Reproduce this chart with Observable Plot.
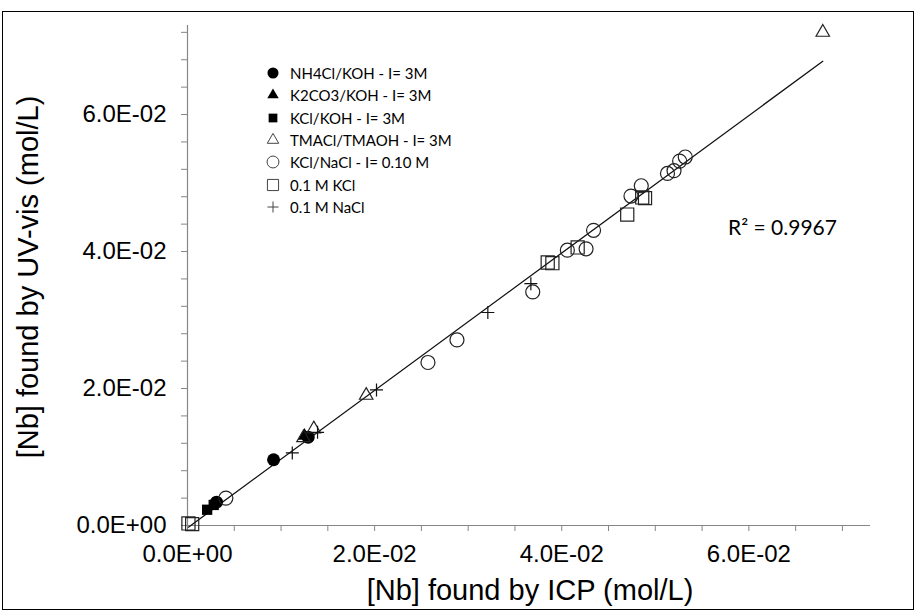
<!DOCTYPE html>
<html><head><meta charset="utf-8">
<script src="https://cdn.jsdelivr.net/npm/d3@7"></script>
<script src="https://cdn.jsdelivr.net/npm/@observablehq/plot@0.6"></script>
<style>
body{margin:0;background:#fff;}
#wrap{position:relative;width:917px;height:613px;overflow:hidden;}
#border{position:absolute;left:2px;top:11px;width:912px;height:599px;border:1.5px solid #000;box-sizing:border-box;pointer-events:none;}
.title{position:absolute;font-family:"Liberation Sans",Arial,sans-serif;font-size:29px;color:#000;white-space:nowrap;line-height:1;}
#ytitle{left:28px;top:277px;transform:translate(-50%,-50%) rotate(-90deg);}
#xtitle{left:530px;top:590px;transform:translate(-50%,-50%);}
#r2{position:absolute;left:728px;top:216px;font-family:Lato,"Open Sans",sans-serif;font-size:21px;line-height:1;white-space:nowrap;}
#legend{position:absolute;left:263px;top:62px;font-family:Lato,"Open Sans",sans-serif;font-size:15px;}
.row{display:flex;align-items:center;height:22.3px;}
.row svg{width:20px;height:20px;margin-right:7px;}
</style></head>
<body><div id="wrap"><div id="chart"></div>
<div id="border"></div>
<div class="title" id="ytitle">[Nb] found by UV-vis (mol/L)</div>
<div class="title" id="xtitle">[Nb] found by ICP (mol/L)</div>
<div id="r2"></div>
<div id="legend"></div>
</div>
<script>
// ---- data ----
const seriesNames = ["NH4Cl/KOH - I= 3M", "K2CO3/KOH - I= 3M", "KCl/KOH - I= 3M", "TMACl/TMAOH - I= 3M", "KCl/NaCl - I= 0.10 M", "0.1 M KCl", "0.1 M NaCl"];
const nh4clX = [0.0031, 0.0092, 0.0129];
const nh4clY = [0.0034, 0.0096, 0.0129];
const k2co3X = [0.0125];
const k2co3Y = [0.0131];
const kclkohX = [0.0021, 0.0028];
const kclkohY = [0.0023, 0.0030];
const tmaclX = [0.0124, 0.0135, 0.0191, 0.0679];
const tmaclY = [0.0128, 0.0141, 0.0190, 0.0720];
const kclnaclX = [0.0041, 0.0257, 0.0288, 0.0369, 0.0406, 0.0426, 0.0434, 0.0474, 0.0485, 0.0513, 0.0520, 0.0526, 0.0532];
const kclnaclY = [0.0040, 0.0238, 0.0271, 0.0341, 0.0402, 0.0404, 0.0431, 0.0481, 0.0496, 0.0514, 0.0518, 0.0532, 0.0538];
const kclX = [0.0001, 0.0005, 0.0385, 0.0390, 0.0417, 0.0470, 0.0486, 0.0489];
const kclY = [0.0003, 0.0002, 0.0384, 0.0383, 0.0406, 0.0454, 0.0479, 0.0478];
const naclX = [0.0112, 0.0139, 0.0202, 0.0321, 0.0367];
const naclY = [0.0106, 0.0136, 0.0198, 0.0311, 0.0353];
const majorTicks = [0, 0.02, 0.04, 0.06];
const xMinorStep = 0.005, yMinorStep = 0.004;
const axisMax = 0.073;
const r2Label = "R² = 0.9967";

// ---- styles ----
const plusSymbol = {draw(ctx, size) {const r = Math.sqrt(size / Math.PI); ctx.moveTo(-r, 0); ctx.lineTo(r, 0); ctx.moveTo(0, -r); ctx.lineTo(0, r);}};
const styles = [
  {symbol: "circle", fill: "#000", stroke: "none", r: 6.5},
  {symbol: "triangle", fill: "#000", stroke: "none", r: 5},
  {symbol: "square", fill: "#000", stroke: "none", r: 5.8},
  {symbol: "triangle", fill: "none", stroke: "#222", r: 5},
  {symbol: "circle", fill: "none", stroke: "#222", r: 7},
  {symbol: "square", fill: "none", stroke: "#222", r: 7.4},
  {symbol: plusSymbol, fill: "none", stroke: "#111", r: 6.5}
];
const xs = [nh4clX, k2co3X, kclkohX, tmaclX, kclnaclX, kclX, naclX];
const ys = [nh4clY, k2co3Y, kclkohY, tmaclY, kclnaclY, kclY, naclY];
const series = seriesNames.map((name, i) => xs[i].map((x, j) => ({series: name, x, y: ys[i][j]})));
const all = series.flat();

const fmtSci = v => {const [m, e] = v.toExponential(1).split("e"); const n = +e; return m + "E" + (n < 0 ? "-" : "+") + String(Math.abs(n)).padStart(2, "0");};
const isMajor = v => majorTicks.some(t => Math.abs(t - v) < 1e-9);
const xTicks = d3.range(0, axisMax - 0.001, xMinorStep).map(v => +v.toFixed(4));
const yTicks = d3.range(0, axisMax - 0.0005, yMinorStep).map(v => +v.toFixed(4));

const plot = Plot.plot({
  width: 917, height: 613,
  marginLeft: 187, marginRight: 47, marginTop: 25, marginBottom: 88,
  x: {domain: [0, axisMax]},
  y: {domain: [0, axisMax]},
  style: {fontFamily: "'Liberation Sans', Arial, sans-serif", fontSize: "24px", background: "transparent", color: "#000", overflow: "visible"},
  marks: [
    Plot.ruleY([0], {stroke: "#868686", strokeWidth: 1.2}),
    Plot.ruleX([0], {stroke: "#868686", strokeWidth: 1.2}),
    Plot.axisX(xTicks, {tickSize: 6, tickPadding: 13, stroke: "#868686", fill: "#000", tickFormat: v => isMajor(v) ? fmtSci(v) : "", label: null}),
    Plot.axisY(yTicks, {tickSize: 6, tickPadding: 15, stroke: "#868686", fill: "#000", tickFormat: v => isMajor(v) ? fmtSci(v) : "", label: null}),
    Plot.linearRegressionY(all, {x: "x", y: "y", ci: 0, stroke: "#111", strokeWidth: 1.3}),
    ...series.map((rows, i) => Plot.dot(rows, {x: "x", y: "y", symbol: styles[i].symbol, fill: styles[i].fill, stroke: styles[i].stroke, r: styles[i].r, strokeWidth: 1.2}))
  ]
});
document.getElementById("chart").appendChild(plot);
document.getElementById("r2").textContent = r2Label;

// legend
const legend = d3.select("#legend");
seriesNames.forEach((name, i) => {
  const row = legend.append("div").attr("class", "row");
  const svg = row.append("svg").attr("viewBox", "-10 -10 20 20");
  const st = styles[i];
  const sym = typeof st.symbol === "string" ? {circle: d3.symbolCircle, triangle: d3.symbolTriangle, square: d3.symbolSquare}[st.symbol] : st.symbol;
  const rr = st.r * 0.85;
  svg.append("path").attr("d", d3.symbol(sym, rr * rr * Math.PI)()).attr("fill", st.fill).attr("stroke", st.stroke === "none" ? "none" : "#444").attr("stroke-width", 1);
  row.append("span").text(name);
});
</script></body></html>
